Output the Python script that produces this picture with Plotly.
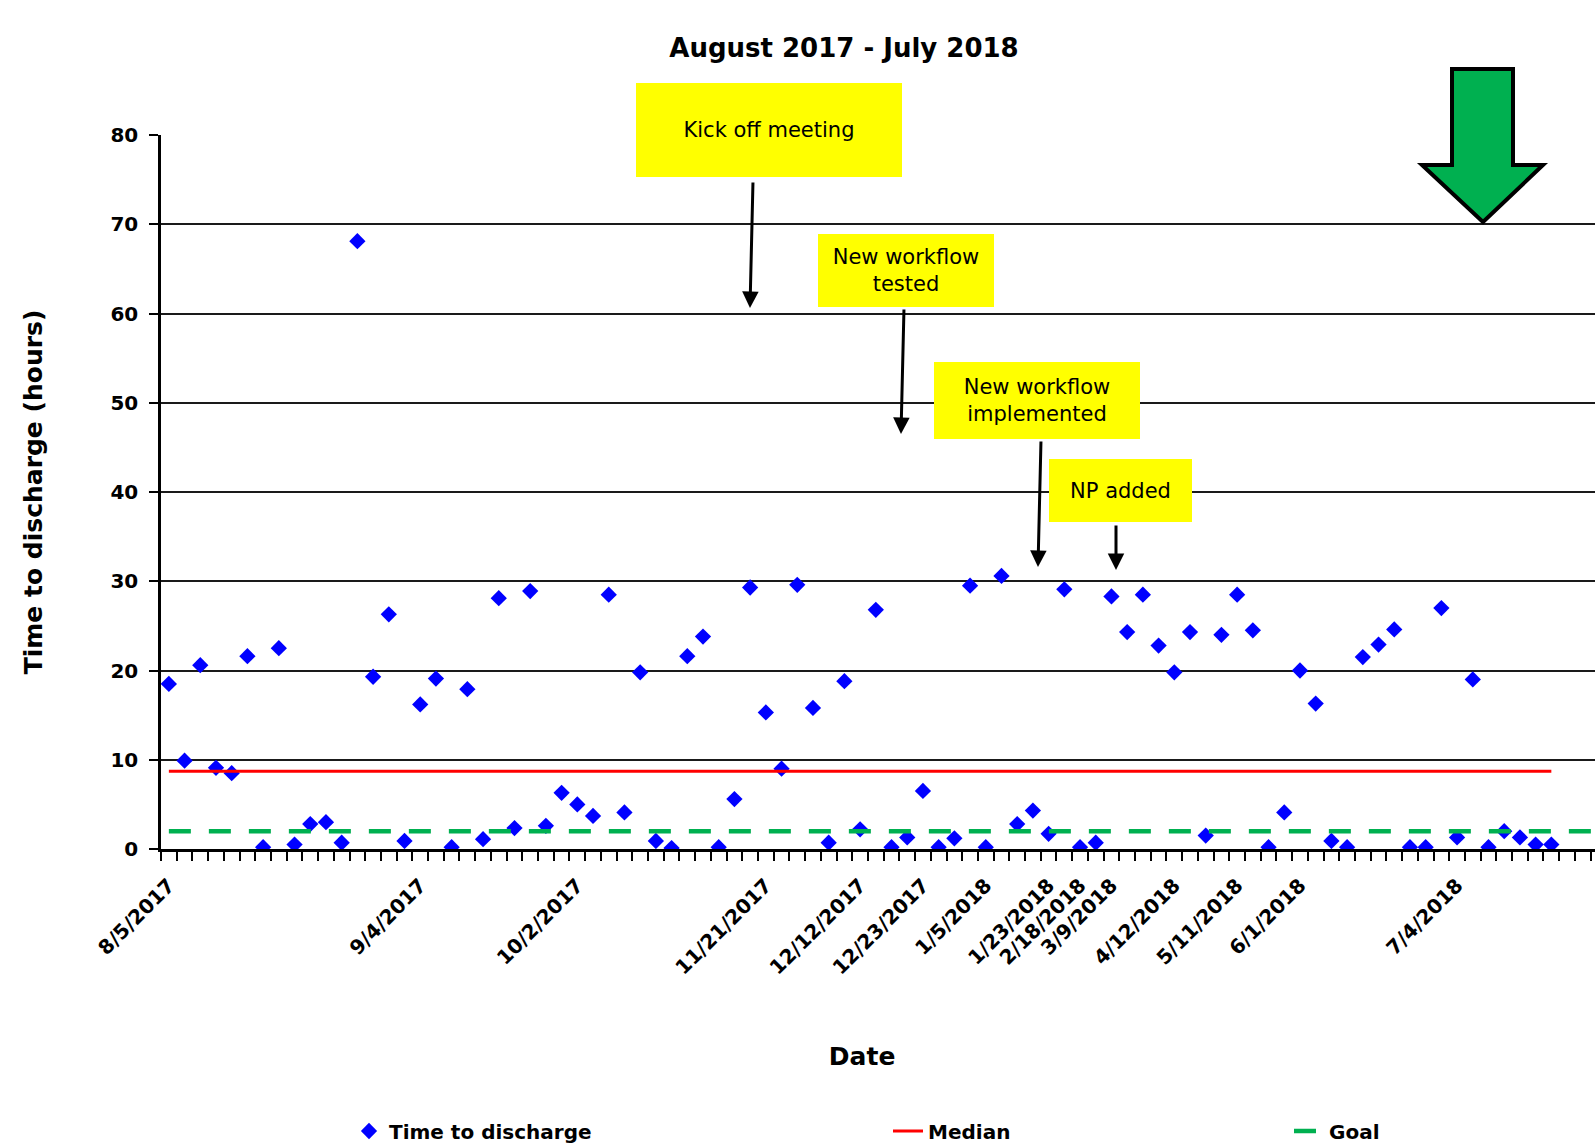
import plotly.graph_objects as go

# ---------------- data ----------------
discharge_hours = [
    18.5, 9.9, 20.6, 9.1, 8.5, 21.6, 0.2, 22.5, 0.5, 2.8, 3.0, 0.7, 68.1, 19.3, 26.3, 0.9,
    16.2, 19.1, 0.2, 17.9, 1.1, 28.1, 2.35,
    28.9, 2.6, 6.3, 5.0, 3.7, 28.5, 4.1, 19.8, 0.9, 0.1, 21.6, 23.8, 0.2, 5.6, 29.3, 15.3,
    9.0, 29.6, 15.8, 0.7, 18.8, 2.2,
    26.8, 0.2, 1.3, 6.5, 0.2, 1.2, 29.5, 0.2, 30.6, 2.8, 4.3, 1.7, 29.1, 0.2, 0.7, 28.3,
    24.3, 28.5, 22.8, 19.8, 24.3, 1.5,
    24.0, 28.5, 24.5, 0.2, 4.1, 20.0, 16.3, 0.9, 0.2, 21.5, 22.9, 24.6, 0.2, 0.2, 27.0,
    1.3, 19.0, 0.2, 2.0, 1.3, 0.5, 0.5,
]
median_hours = 8.7
goal_hours = 2.0
n_goal_categories = 93

tick_positions = [0, 16, 26, 38, 44, 48, 52, 56, 58, 60, 64, 68, 72, 82]
tick_labels = ["8/5/2017", "9/4/2017", "10/2/2017", "11/21/2017", "12/12/2017",
               "12/23/2017", "1/5/2018", "1/23/2018", "2/18/2018", "3/9/2018",
               "4/12/2018", "5/11/2018", "6/1/2018", "7/4/2018"]

events = ["Kick off meeting", "New workflow<br>tested", "New workflow<br>implemented", "NP added"]

# ---------------- layout geometry ----------------
W_FIG, H_FIG = 1595, 1144
L, R, T, B = 161, 0, 135, 295
PW = W_FIG - L - R
PH = H_FIG - T - B
BOTTOM = T + PH
CAT_W = 15.71
x_range = [-0.5, -0.5 + PW / CAT_W]


def pxx(px):
    return (px - L) / PW


def pyy(py):
    return (BOTTOM - py) / PH


FONT = "DejaVu Sans"
n = len(discharge_hours)
x_idx = list(range(n))

fig = go.Figure()
fig.add_trace(go.Scatter(
    x=x_idx, y=discharge_hours, mode="markers", name="Time to discharge",
    marker=dict(symbol="diamond", size=12.5, color="#0000FF"), legend="legend",
    showlegend=True,
))
fig.add_trace(go.Scatter(
    x=x_idx, y=[median_hours] * n, mode="lines", name="Median",
    line=dict(color="#FF0000", width=3), legend="legend2", showlegend=True,
))
fig.add_trace(go.Scatter(
    x=list(range(n_goal_categories)), y=[goal_hours] * n_goal_categories, mode="lines",
    name="Goal", line=dict(color="#00B050", width=4.5, dash="22px,18px"), legend="legend3",
    showlegend=True,
))

# ---------------- annotations ----------------
boxes = [  # (cx, cy, w, h) in pixels
    (769, 130, 266, 94),
    (906, 270, 176, 73),
    (1037, 400, 206, 77),
    (1120, 490, 143, 63),
]
arrows = [  # (tail_x, tail_y, tip_x, tip_y)
    (753, 181, 750, 308),
    (904, 308, 901, 434),
    (1041, 440, 1038, 567),
    (1116, 524, 1116, 570),
]
annotations = []
for (cx, cy, w, h), txt in zip(boxes, events):
    annotations.append(dict(
        x=pxx(cx), y=pyy(cy), xref="paper", yref="paper", text=txt, showarrow=False,
        bgcolor="#FFFF00", width=w, height=h, borderpad=0, borderwidth=0,
        xanchor="center", yanchor="middle", align="center",
        font=dict(family=FONT, size=21, color="#000000"),
    ))
for (tx, ty, hx, hy) in arrows:
    annotations.append(dict(
        x=pxx(hx), y=pyy(hy), xref="paper", yref="paper", text="", showarrow=True,
        ax=tx - hx, ay=ty - hy, arrowhead=2, arrowsize=1.1, arrowwidth=3,
        arrowcolor="#000000",
    ))

# green down arrow (pixel outline)
green_pts = [(1452, 69), (1513, 69), (1513, 165), (1543, 165), (1483, 222),
             (1422, 165), (1452, 165)]
path = "M " + " L ".join(f"{pxx(a):.5f},{pyy(b):.5f}" for a, b in green_pts) + " Z"
shapes = [dict(type="path", path=path, xref="paper", yref="paper",
               fillcolor="#00B050", line=dict(color="#000000", width=4))]

legend_common = dict(orientation="h", yanchor="middle", xanchor="left", yref="container",
                     bgcolor="rgba(0,0,0,0)", borderwidth=0, visible=True,
                     font=dict(family=FONT, size=20, color="#000000", weight="bold"))
legend_y = 1 - 1131 / H_FIG

fig.update_layout(
    width=W_FIG, height=H_FIG, showlegend=True,
    margin=dict(l=L, r=R, t=T, b=B, autoexpand=False),
    paper_bgcolor="white", plot_bgcolor="white",
    title=dict(text="<b>August 2017 - July 2018</b>", x=844 / W_FIG, xanchor="center",
               y=1 - 48 / H_FIG, yanchor="middle", yref="container",
               font=dict(family=FONT, size=26, color="#000000")),
    xaxis=dict(
        range=x_range, tickmode="array", tickvals=tick_positions, ticktext=tick_labels,
        tickangle=-45, ticks="", ticklabelstandoff=14,
        tickfont=dict(family=FONT, size=20, color="#000000", weight="bold"),
        showgrid=False, zeroline=False, showline=True, linecolor="#000000", linewidth=2.5,
        minor=dict(tickmode="linear", tick0=0.5, dtick=1, ticks="outside", ticklen=9,
                   tickwidth=2, tickcolor="#000000", showgrid=False),
        title=dict(text="<b>Date</b>" + "&nbsp;" * 4, standoff=70,
                   font=dict(family=FONT, size=25, color="#000000")),
    ),
    yaxis=dict(
        range=[0, 80], dtick=10, ticks="outside", ticklen=9, tickwidth=2,
        tickcolor="#000000", ticklabelstandoff=7,
        tickfont=dict(family=FONT, size=20, color="#000000", weight="bold"),
        showgrid=True, gridcolor="#1a1a1a", gridwidth=1.5, zeroline=False,
        showline=True, linecolor="#000000", linewidth=2.5,
        title=dict(text="<b>Time to discharge (hours)</b>", standoff=61,
                   font=dict(family=FONT, size=25, color="#000000")),
    ),
    legend=dict(x=pxx(349), y=legend_y, **legend_common),
    legend2=dict(x=pxx(888), y=legend_y, **legend_common),
    legend3=dict(x=pxx(1289), y=legend_y, **legend_common),
    annotations=annotations,
    shapes=shapes,
)

fig.write_html(
    "out.html",
    config={"displayModeBar": False},
    post_script="document.body.style.margin='0';document.body.style.overflow='hidden';",
)
